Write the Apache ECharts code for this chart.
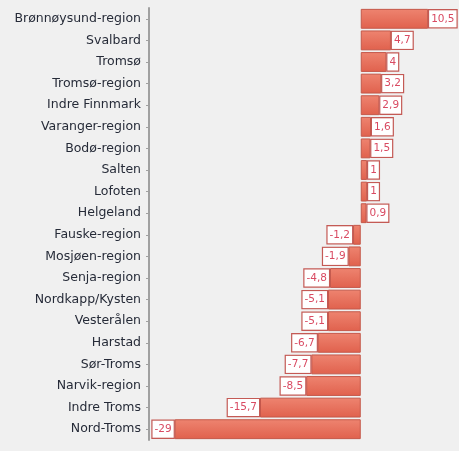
<!DOCTYPE html>
<html>
<head>
<meta charset="utf-8">
<script src="https://cdn.jsdelivr.net/npm/echarts@6/dist/echarts.min.js"></script>
<style>
  html, body { margin: 0; padding: 0; background: #f0f0f0; }
  #chart { width: 459px; height: 451px; }
</style>
</head>
<body>
<div id="chart"></div>
<script>
// regions, top to bottom as shown
var regions = ["Brønnøysund-region", "Svalbard", "Tromsø", "Tromsø-region", "Indre Finnmark",
  "Varanger-region", "Bodø-region", "Salten", "Lofoten", "Helgeland", "Fauske-region",
  "Mosjøen-region", "Senja-region", "Nordkapp/Kysten", "Vesterålen", "Harstad",
  "Sør-Troms", "Narvik-region", "Indre Troms", "Nord-Troms"];
var values = [10.5, 4.7, 4, 3.2, 2.9, 1.6, 1.5, 1, 1, 0.9, -1.2, -1.9, -4.8, -5.1, -5.1,
  -6.7, -7.7, -8.5, -15.7, -29];

var chart = echarts.init(document.getElementById("chart"));
chart.setOption({
  backgroundColor: "#f0f0f0",
  animation: false,
  grid: { left: 149, right: 2, top: 8, bottom: 11 },
  xAxis: {
    type: "value",
    min: -33,
    max: 15,
    show: false
  },
  yAxis: {
    type: "category",
    inverse: true,
    data: regions,
    axisLine: { show: true, onZero: false, lineStyle: { color: "#a0a0a0", width: 2 } },
    axisTick: { show: true, length: 3, alignWithLabel: true, lineStyle: { color: "#a0a0a0" } },
    axisLabel: {
      margin: 8,
      color: "#262b38",
      fontFamily: "DejaVu Sans",
      fontSize: 12.5
    }
  },
  series: [
    {
      type: "bar",
      barCategoryGap: "8%",
      data: values.map(function (v) {
        return {
          value: v,
          label: { position: v < 0 ? "left" : "right" }
        };
      }),
      itemStyle: {
        color: new echarts.graphic.LinearGradient(0, 0, 0, 1, [
          { offset: 0, color: "#ee8470" },
          { offset: 1, color: "#e0614d" }
        ]),
        borderColor: "#c4584a",
        borderWidth: 1
      },
      label: {
        show: true,
        distance: 1,
        color: "#d94a62",
        fontFamily: "DejaVu Sans",
        fontSize: 10.5,
        backgroundColor: "#ffffff",
        borderColor: "#c45a55",
        borderWidth: 1.2,
        padding: [3, 2, 3, 2],
        formatter: function (p) {
          return String(p.value).replace(".", ",");
        }
      }
    }
  ]
});
</script>
</body>
</html>
